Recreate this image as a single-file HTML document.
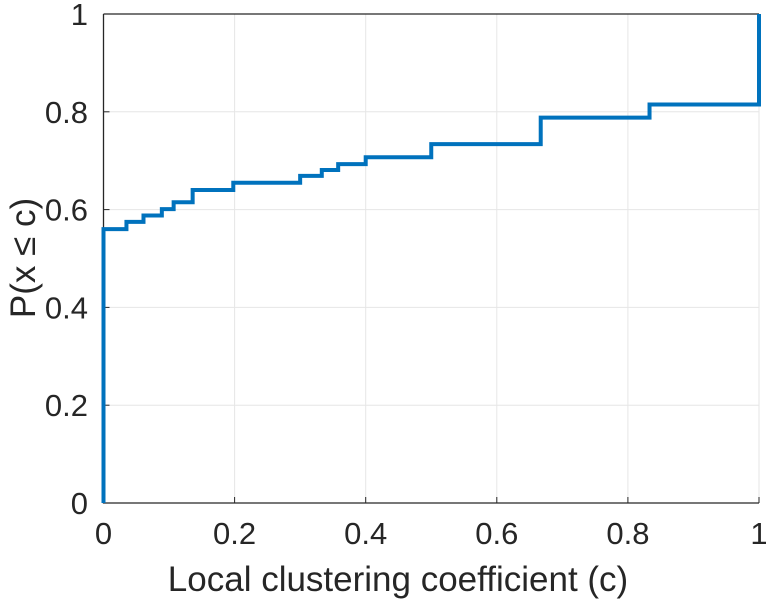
<!DOCTYPE html>
<html><head><meta charset="utf-8"><style>
body{margin:0;background:#fff;width:766px;height:600px;overflow:hidden}
svg{font-family:"Liberation Sans",sans-serif}
</style></head><body>
<svg id="chart" width="766" height="600">
<g id="grid"></g><g id="axes"></g><g id="series"></g>
<text x="398" y="591" font-size="35" text-anchor="middle" fill="#262626">Local clustering coefficient (c)</text>
<text transform="translate(35,258) rotate(-90)" font-size="35" text-anchor="middle" fill="#262626">P(x ≤ c)</text>
</svg>
<script>
const stepX=[0,0.035,0.061,0.089,0.107,0.136,0.198,0.300,0.333,0.358,0.400,0.500,0.667,0.833,1.0];
const stepY=[0.560,0.575,0.588,0.601,0.615,0.640,0.655,0.669,0.681,0.693,0.707,0.734,0.788,0.815,1.0];
const xTicks=[0,0.2,0.4,0.6,0.8,1];
const xTickLabels=["0","0.2","0.4","0.6","0.8","1"];
const yTicks=[0,0.2,0.4,0.6,0.8,1];
const yTickLabels=["0","0.2","0.4","0.6","0.8","1"];
const L=103.5,R=759,T=14,B=503;
const sx=v=>L+v*(R-L), sy=v=>B-v*(B-T);
const NS="http://www.w3.org/2000/svg";
function mk(p,tag,a){const e=document.createElementNS(NS,tag);for(const k in a)e.setAttribute(k,a[k]);p.appendChild(e);return e;}
const grid=document.getElementById('grid'),axes=document.getElementById('axes'),ser=document.getElementById('series');
xTicks.forEach((v,i)=>{
 const g=mk(grid,'line',{x1:sx(v),x2:sx(v),y1:T,y2:B,stroke:'#e6e6e6','stroke-width':1});
 
 
 const t=mk(axes,'text',{x:sx(v),y:544,'font-size':31,'text-anchor':'middle',fill:'#262626'});
 t.textContent=xTickLabels[i];
 
 
});
yTicks.forEach((v,i)=>{
 const g=mk(grid,'line',{x1:L,x2:R,y1:sy(v),y2:sy(v),stroke:'#e6e6e6','stroke-width':1});
 
 
 const t=mk(axes,'text',{x:88,y:sy(v)+11,'font-size':31,'text-anchor':'end',fill:'#262626'});
 t.textContent=yTickLabels[i];
 
 
 const tk=mk(axes,'line',{x1:L,x2:L+6,y1:sy(v),y2:sy(v),stroke:'#262626','stroke-width':1});
 
 
});
xTicks.forEach(v=>{
 const tk=mk(axes,'line',{x1:sx(v),x2:sx(v),y1:B,y2:B-6,stroke:'#262626','stroke-width':1});
 
 
});
const ax=mk(axes,'path',{d:`M${L},${T}V${B}H${R}M${L},${T}H${R}`,fill:'none',stroke:'#262626','stroke-width':1.3});


let d=`M${sx(0)},${sy(0)}`;
for(let i=0;i<stepX.length;i++){
 d+=`L${sx(stepX[i])},${sy(i?stepY[i-1]:0)}L${sx(stepX[i])},${sy(stepY[i])}`;
 if(i+1<stepX.length)d+=`L${sx(stepX[i+1])},${sy(stepY[i])}`;
}
const p=mk(ser,'path',{d:d,fill:'none',stroke:'#0072BD','stroke-width':4,'stroke-linejoin':'miter'});


</script>
</body></html>
